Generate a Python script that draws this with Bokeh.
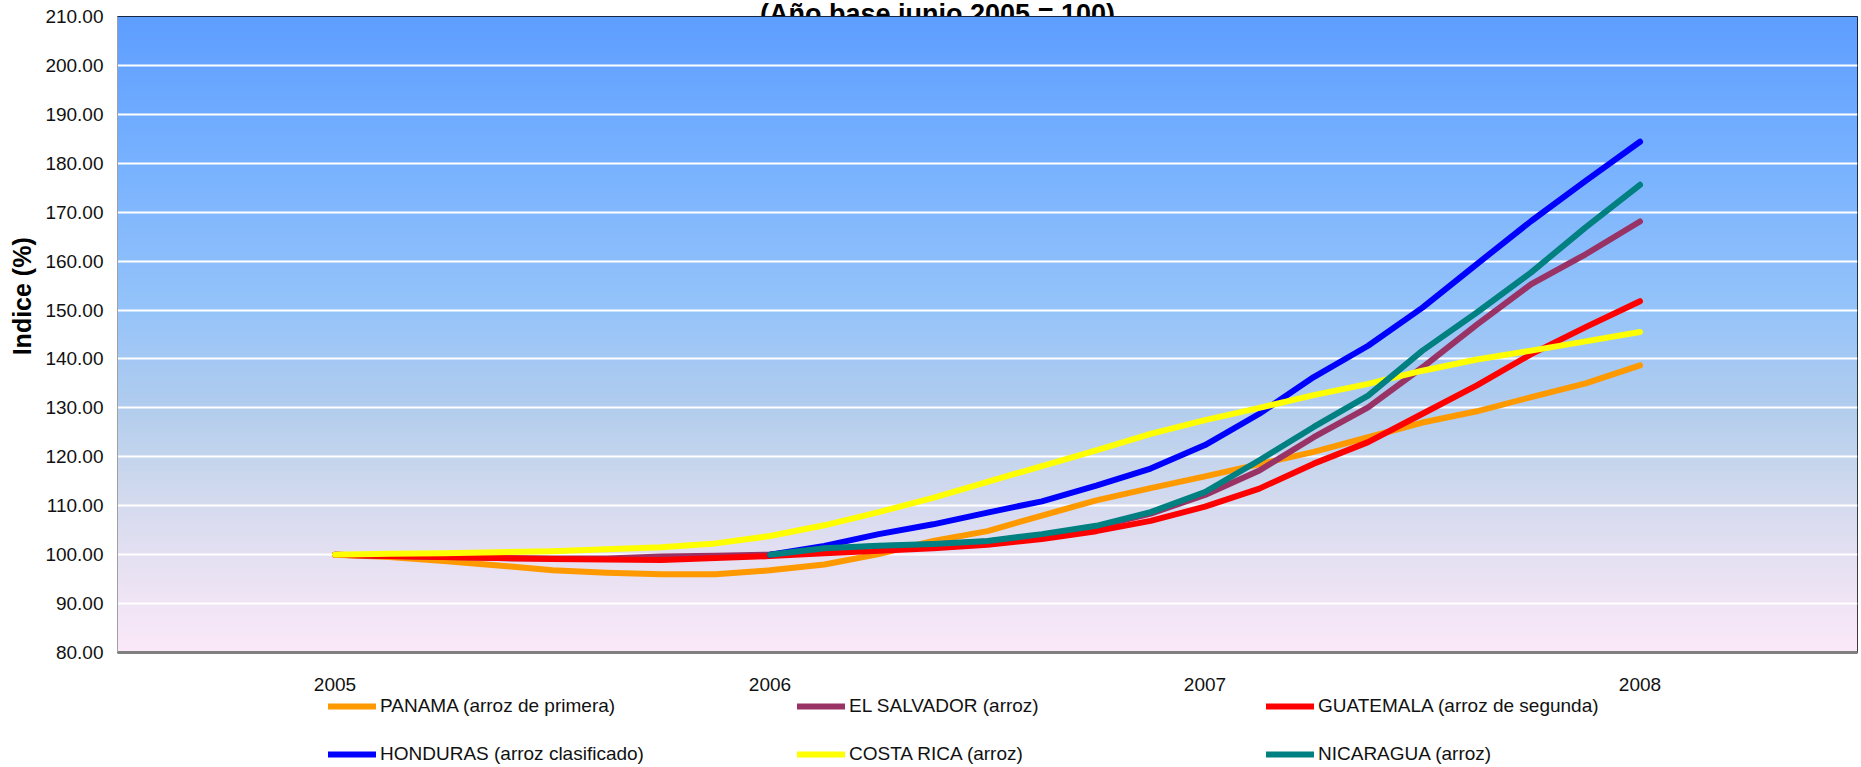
import numpy as np
from bokeh.plotting import figure
from bokeh.layouts import column
from bokeh.models import FixedTicker, Legend, LegendItem, Label, NumeralTickFormatter, Range1d
from bokeh.embed import file_html
from bokeh.resources import INLINE

# ---------------- data ----------------
periods = [2005.0, 2005.125, 2005.25, 2005.375, 2005.5, 2005.625, 2005.75, 2005.875,
           2006.0, 2006.125, 2006.25, 2006.375, 2006.5, 2006.625, 2006.75, 2006.875,
           2007.0, 2007.125, 2007.25, 2007.375, 2007.5, 2007.625, 2007.75, 2007.875,
           2008.0]
periods_from_2006 = periods[8:]

panama = [100.0, 99.5, 98.7, 97.8, 96.8, 96.3, 96.0, 96.0,
          96.8, 98.0, 100.1, 102.8, 104.8, 108.0, 111.1, 113.6,
          116.0, 118.5, 121.0, 124.0, 127.0, 129.3, 132.2, 135.0, 138.7]
el_salvador = [100.0, 99.7, 99.5, 99.3, 99.2, 99.2, 99.6, 99.8,
               100.0, 101.2, 101.7, 102.1, 102.7, 104.0, 105.7, 108.4,
               112.2, 117.2, 124.0, 130.1, 138.3, 147.0, 155.3, 161.4, 168.1]
guatemala = [100.0, 99.7, 99.5, 99.3, 99.1, 99.0, 98.9, 99.3,
             99.7, 100.3, 100.8, 101.3, 102.0, 103.2, 104.8, 106.9,
             109.8, 113.5, 118.6, 123.0, 128.8, 134.6, 141.0, 146.5, 151.8]
honduras = [100.0, 101.8, 104.2, 106.2, 108.6, 110.9, 114.1, 117.6,
            122.4, 128.8, 136.3, 142.7, 150.5, 159.4, 168.2, 176.4, 184.4]
costa_rica = [100.0, 100.2, 100.3, 100.5, 100.7, 101.1, 101.5, 102.3,
              103.8, 106.0, 108.7, 111.6, 114.9, 118.1, 121.3, 124.7,
              127.5, 130.0, 132.6, 134.9, 137.6, 139.9, 141.7, 143.6, 145.5]
nicaragua = [100.0, 101.3, 101.8, 102.2, 102.8, 104.2, 105.9, 108.7,
             112.8, 119.3, 126.1, 132.5, 141.7, 149.5, 157.7, 166.9, 175.6]

series_names = ["PANAMA (arroz de primera)", "EL SALVADOR (arroz)", "GUATEMALA (arroz de segunda)",
                "HONDURAS (arroz clasificado)", "COSTA RICA (arroz)", "NICARAGUA (arroz)"]
series_colors = ["#FF9900", "#993366", "#FF0000", "#0000FF", "#FFFF00", "#008080"]

x_ticks = [2005, 2006, 2007, 2008]
x_tick_labels = ["2005", "2006", "2007", "2008"]
y_ticks = [80, 90, 100, 110, 120, 130, 140, 150, 160, 170, 180, 190, 200, 210]

title_text = "(Año base junio 2005 = 100)"
y_title = "Indice (%)"

FONT = "Liberation Sans"
LINE_W = 6
W = 1861


def no_align(fig):
    if "frame_align" in fig.properties():
        fig.frame_align = False


# ---------------- title strip (the title is cut by the top edge, as in the original) ----------------
ts = figure(width=W, height=16, x_range=Range1d(0, W), y_range=Range1d(0, 16),
            x_axis_type=None, y_axis_type=None, output_backend="svg", toolbar_location=None,
            min_border_left=0, min_border_right=0, min_border_top=0, min_border_bottom=0)
no_align(ts)
ts.grid.visible = False
ts.outline_line_color = None
ts.background_fill_color = "white"
ts.border_fill_color = "white"
ts.add_layout(Label(x=937, y=3, text=title_text,
                    text_font=FONT, text_font_size="27px", text_font_style="bold",
                    text_align="center", text_baseline="alphabetic", text_color="black"))

# ---------------- main figure ----------------
p = figure(width=W, height=698, x_range=(2004.5, 2008.5), y_range=(80, 210),
           output_backend="svg", toolbar_location=None, margin=(-16, 0, 0, 0),
           min_border_left=117, min_border_right=4, min_border_top=16, min_border_bottom=46)
no_align(p)
p.border_fill_alpha = 0
p.outline_line_color = "black"
p.outline_line_width = 1

# background gradient of the plot area
stop_vals = [80, 90, 100, 110, 120, 130, 150, 180, 210]
stop_cols = [(251, 233, 249), (240, 229, 245), (228, 224, 242), (214, 219, 239),
             (196, 213, 237), (178, 205, 238), (150, 196, 250), (120, 178, 255), (94, 158, 255)]
rows = 640
yy = np.linspace(80, 210, rows)
img = np.empty((rows, 2), dtype=np.uint32)
view = img.view(dtype=np.uint8).reshape((rows, 2, 4))
for ch in range(3):
    view[:, :, ch] = np.interp(yy, stop_vals, [c[ch] for c in stop_cols])[:, None].astype(np.uint8)
view[:, :, 3] = 255
bg = p.image_rgba(image=[img], x=2004.5, y=80, dw=4, dh=130)
bg.level = "image"

# grid
p.xgrid.visible = False
p.ygrid.ticker = FixedTicker(ticks=y_ticks)
p.ygrid.grid_line_color = "white"
p.ygrid.grid_line_width = 2

# axes
p.yaxis.ticker = FixedTicker(ticks=y_ticks)
p.yaxis.formatter = NumeralTickFormatter(format="0.00")
p.yaxis.major_tick_line_color = None
p.yaxis.minor_tick_line_color = None
p.yaxis.major_tick_out = 0
p.yaxis.major_label_standoff = 14
p.yaxis.axis_line_color = "#A0A0A0"
p.yaxis.axis_line_width = 1
p.yaxis.major_label_text_font = FONT
p.yaxis.major_label_text_font_size = "19px"
p.yaxis.major_label_text_color = "#111111"
# leading no-break spaces lift the visible title a little above the axis centre, as in the original
p.yaxis.axis_label = "\u00a0" * 11 + y_title
p.yaxis.axis_label_standoff = 6
p.yaxis.axis_label_text_font = FONT
p.yaxis.axis_label_text_font_size = "25px"
p.yaxis.axis_label_text_font_style = "bold"
p.yaxis.axis_label_text_color = "black"

p.xaxis.ticker = FixedTicker(ticks=x_ticks)
p.xaxis.major_label_overrides = {t: "\n" + s for t, s in zip(x_ticks, x_tick_labels)}
p.xaxis.major_tick_line_color = None
p.xaxis.minor_tick_line_color = None
p.xaxis.major_tick_out = 0
p.xaxis.major_label_standoff = 0
p.xaxis.major_label_text_line_height = 1.0
p.xaxis.axis_line_color = "#808080"
p.xaxis.axis_line_width = 3
p.xaxis.major_label_text_font = FONT
p.xaxis.major_label_text_font_size = "19px"
p.xaxis.major_label_text_color = "#111111"

# lines (drawing order as in the original)
xs = [periods, periods, periods, periods_from_2006, periods, periods_from_2006]
ys = [panama, el_salvador, guatemala, honduras, costa_rica, nicaragua]
for x, y, c in zip(xs, ys, series_colors):
    p.line(x, y, line_color=c, line_width=LINE_W, line_cap="round", line_join="round")

# ---------------- legend strip ----------------
lg = figure(width=W, height=71, x_range=Range1d(0, 1), y_range=Range1d(0, 1),
            x_axis_type=None, y_axis_type=None,
            output_backend="svg", toolbar_location=None, margin=(-3, 0, 0, 0),
            min_border_left=328, min_border_right=4, min_border_top=0, min_border_bottom=0)
no_align(lg)
lg.grid.visible = False
lg.outline_line_color = None
lg.background_fill_alpha = 0
lg.border_fill_alpha = 0
leg_renderers = [lg.line(x=[-2, -1], y=[-2, -2], line_color=c, line_width=LINE_W, line_cap="round")
                 for c in series_colors]
legend = Legend(items=[LegendItem(label=n, renderers=[r]) for n, r in zip(series_names, leg_renderers)],
                orientation="horizontal", ncols=3, location="top_left",
                background_fill_alpha=0, border_line_alpha=0,
                padding=0, margin=0, spacing=26, glyph_width=48, glyph_height=22,
                label_standoff=4, label_height=22, label_width=391,
                label_text_font=FONT, label_text_font_size="19px", label_text_color="#111111")
lg.add_layout(legend)

layout = column(ts, p, lg, spacing=0)
open("out.html", "w").write(file_html(layout, INLINE))
